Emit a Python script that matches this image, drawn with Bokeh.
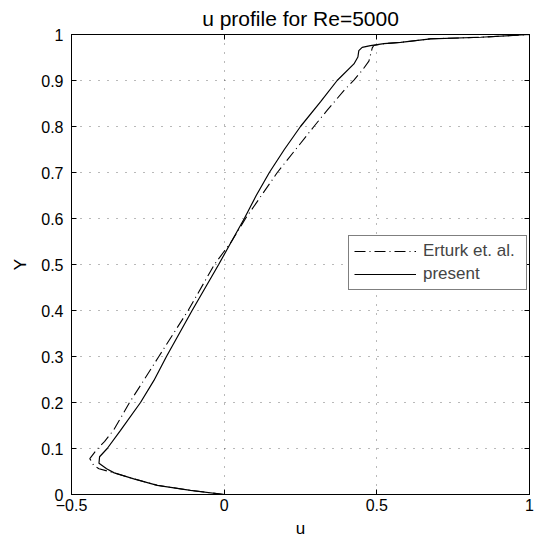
from bokeh.plotting import figure
from bokeh.models import FixedTicker, LinearAxis, Range1d, Legend, LegendItem
from bokeh.embed import file_html
from bokeh.resources import INLINE

# ---- data ----
present_y = [0, 0.009, 0.02, 0.034, 0.047, 0.056, 0.068, 0.082, 0.1, 0.139, 0.2, 0.248,
             0.3, 0.4, 0.5, 0.55, 0.6, 0.65, 0.7, 0.75, 0.8, 0.854, 0.9, 0.936, 0.951,
             0.965, 0.972, 0.976, 0.98, 0.983, 0.9906, 0.994, 1.0]
present_u = [0, -0.11, -0.219, -0.296, -0.36, -0.385, -0.41, -0.408, -0.383, -0.34, -0.274, -0.23,
             -0.189, -0.105, -0.018, 0.024, 0.066, 0.105, 0.148, 0.197, 0.25, 0.316, 0.37, 0.425, 0.438,
             0.441, 0.452, 0.479, 0.523, 0.578, 0.676, 0.84, 1.0]

erturk_y = [0, 0.009, 0.02, 0.034, 0.047, 0.056, 0.063, 0.078, 0.097, 0.115, 0.141, 0.165,
            0.2, 0.237, 0.3, 0.4, 0.5, 0.55, 0.6, 0.7, 0.8, 0.835, 0.878, 0.901, 0.922,
            0.942, 0.971, 0.976, 0.98, 0.983, 0.9906, 0.994, 1.0]
erturk_u = [0, -0.11, -0.219, -0.296, -0.36, -0.41, -0.427, -0.44, -0.418, -0.392, -0.361, -0.34,
            -0.31, -0.274, -0.214, -0.118, -0.032, 0.024, 0.07, 0.174, 0.294, 0.337, 0.392, 0.425, 0.452,
            0.474, 0.485, 0.49, 0.523, 0.578, 0.676, 0.84, 1.0]

x_ticks = [-0.5, 0, 0.5, 1]
x_tick_labels = ["\u22120.5", "0", "0.5", "1"]
y_ticks = [0, 0.1, 0.2, 0.3, 0.4, 0.5, 0.6, 0.7, 0.8, 0.9, 1]
y_tick_labels = ["0", "0.1", "0.2", "0.3", "0.4", "0.5", "0.6", "0.7", "0.8", "0.9", "1"]

title_text = "u profile for Re=5000"
x_label = "u"
y_label = "Y"
series_names = ["Erturk et. al.", "present"]

FONT = "Liberation Sans"

p = figure(width=538, height=543, x_range=Range1d(-0.5, 1), y_range=Range1d(0, 1),
           output_backend="svg", toolbar_location=None,
           min_border_left=71, min_border_right=9, min_border_top=34, min_border_bottom=49,
           background_fill_color="white", border_fill_color="white")

p.title.text = title_text
p.title.align = "center"
p.title.text_font = FONT
p.title.text_font_size = "21px"
p.title.text_font_style = "normal"
p.title.text_color = "black"
p.title.standoff = 9

def style_axis(ax, ticks, labels, show_labels=True):
    ax.ticker = FixedTicker(ticks=ticks)
    ax.major_tick_in = 5
    ax.major_tick_out = 0
    ax.minor_tick_line_color = None
    ax.axis_line_color = "black"
    ax.major_tick_line_color = "black"
    ax.major_label_text_font = FONT
    ax.axis_label_text_font = FONT
    ax.axis_label_text_font_style = "normal"
    ax.axis_label_text_color = "black"
    if show_labels:
        ax.major_label_overrides = {t: l for t, l in zip(ticks, labels)}
        ax.major_label_text_color = "black"
        ax.major_label_text_font_size = "16px"
        ax.axis_label_text_font_size = "17px"
    else:
        ax.major_label_overrides = {t: "" for t in ticks}
        ax.major_label_text_color = None
        ax.major_label_text_font_size = "10px"
        ax.major_label_standoff = 0

xa = p.xaxis[0]
ya = p.yaxis[0]
style_axis(xa, x_ticks, x_tick_labels)
style_axis(ya, y_ticks, y_tick_labels)
xa.axis_label = x_label
ya.axis_label = y_label
xa.major_label_standoff = 4
ya.major_label_standoff = 8
xa.axis_label_standoff = 5
ya.axis_label_standoff = 8

top = LinearAxis()
right = LinearAxis()
style_axis(top, x_ticks, x_tick_labels, show_labels=False)
style_axis(right, y_ticks, y_tick_labels, show_labels=False)
p.add_layout(top, "above")
p.add_layout(right, "right")

for g in (p.xgrid[0], p.ygrid[0]):
    g.grid_line_color = "black"
    g.grid_line_alpha = 0.55
    g.grid_line_dash = "1 8"
    g.grid_line_width = 1
p.xgrid[0].ticker = FixedTicker(ticks=x_ticks)
p.ygrid[0].ticker = FixedTicker(ticks=y_ticks)

p.outline_line_color = "black"

r1 = p.line(erturk_u, erturk_y, line_color="black", line_width=1.1, line_dash="11 4 1 4")
r2 = p.line(present_u, present_y, line_color="black", line_width=1.2)

legend = Legend(items=[LegendItem(label=series_names[0], renderers=[r1]),
                       LegendItem(label=series_names[1], renderers=[r2])],
                location=(277, 204), margin=0, padding=5, spacing=3,
                glyph_width=62, glyph_height=18, label_height=18, label_standoff=7,
                label_width=98,
                label_text_font=FONT, label_text_font_size="17px",
                border_line_color="black", border_line_width=1,
                background_fill_color="white", background_fill_alpha=1)
p.add_layout(legend)

open("out.html", "w").write(file_html(p, INLINE))
